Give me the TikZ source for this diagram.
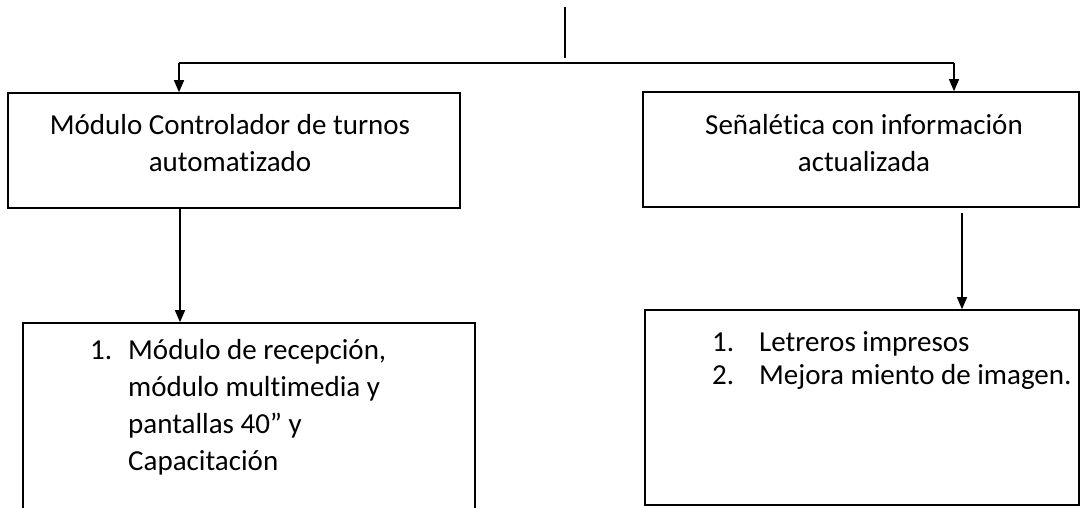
\documentclass[tikz,border=0pt]{standalone}
\usepackage{fontspec}
\setmainfont{Carlito}[Ligatures=NoCommon]
\usetikzlibrary{arrows.meta}
\begin{document}
\begin{tikzpicture}[x=1pt,y=-1pt,
  box/.style={draw,line width=1.6pt,inner sep=0pt},
  ln/.style={line width=1.3pt},
  arr/.style={line width=1.3pt,-{Triangle[width=10pt,length=12pt]}},
  txt/.style={inner sep=0pt,font=\fontsize{29}{37}\selectfont}]
\useasboundingbox (0,0) rectangle (1081,508);
% boxes
\node[box,minimum width=452pt,minimum height=115pt] (A) at (234,150.5) {};
\node[box,minimum width=436pt,minimum height=115pt] (B) at (861,149.5) {};
\node[box,minimum width=452pt,minimum height=207pt] (C) at (249,426.5) {};
\node[box,minimum width=434pt,minimum height=195pt] (D) at (862,407.5) {};
% connectors
\coordinate (t1) at (565,7);
\coordinate (t2) at (565,58);
\draw[ln] (t1) -- (t2);
\coordinate (hl) at (179,63);
\coordinate (hr) at (954,63);
\draw[ln] (hl) -- (hr);
\draw[arr] (hl) -- (hl |- A.north);
\draw[arr] (hr) -- (hr |- B.north);
\coordinate (cx) at (180,0);
\draw[arr] (cx |- A.south) -- (cx |- C.north);
\coordinate (dx) at (962,0);
\draw[arr,shorten <=5pt] (dx |- B.south) -- (dx |- D.north);
% texts
\node[txt,anchor=base] (at) at (230,135) {\begin{tabular}[t]{@{}c@{}}Módulo Controlador de turnos\\automatizado\end{tabular}};
\node[txt,anchor=base] (bt) at (864,135) {\begin{tabular}[t]{@{}c@{}}Señalética con información\\actualizada\end{tabular}};
\node[txt,anchor=base west] (ct) at (90,359) {\vtop{\baselineskip=37pt
  \hbox{\makebox[38pt][l]{1.}Módulo de recepción,}
  \hbox{\hspace{38pt}módulo multimedia y}
  \hbox{\hspace{38pt}pantallas 40” y}
  \hbox{\hspace{38pt}Capacitación}}};
\node[txt,anchor=base west] (dt) at (712,351) {\vtop{\baselineskip=33pt
  \hbox{\makebox[47pt][l]{1.}Letreros impresos}
  \hbox{\makebox[47pt][l]{2.}Mejora miento de imagen.}}};
\end{tikzpicture}
\end{document}
